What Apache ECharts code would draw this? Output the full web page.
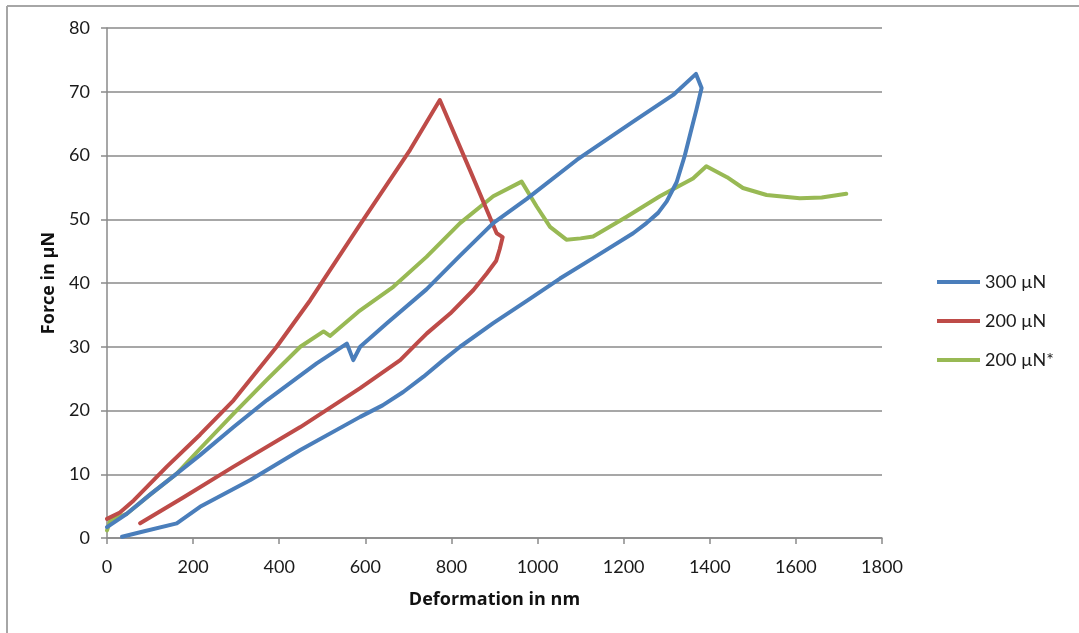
<!DOCTYPE html>
<html>
<head>
<meta charset="utf-8">
<title>Force vs Deformation</title>
<script src="https://cdn.jsdelivr.net/npm/echarts@6/dist/echarts.min.js"></script>
<style>
  html, body { margin: 0; padding: 0; background: #ffffff; }
  #chart { width: 1079px; height: 633px; }
</style>
</head>
<body>
<div id="chart"></div>
<script>
// Series names
const seriesNames = ['300 µN', '200 µN', '200 µN*'];

// 300 µN: loading then unloading (deformation nm, force µN)
const deformation300 = [0, 46, 100, 162, 216, 294, 371, 487, 557, 572, 588, 650, 742, 820, 897, 975, 1091, 1222, 1315, 1368, 1381, 1369, 1355, 1342, 1323, 1300, 1280, 1253, 1222, 1129, 1052, 975, 897, 820, 781, 735, 688, 640, 588, 449, 333, 216, 162, 77, 35];
const force300 =       [1.7, 3.8, 6.8, 10.1, 13.0, 17.4, 21.6, 27.4, 30.5, 27.9, 30.0, 33.7, 39.0, 44.3, 49.4, 53.2, 59.3, 65.3, 69.5, 72.8, 70.6, 67.2, 63.5, 60.0, 55.8, 52.8, 51.0, 49.4, 47.8, 43.9, 40.7, 37.2, 33.7, 30.0, 27.9, 25.3, 22.9, 20.8, 19.0, 13.8, 9.1, 4.9, 2.3, 0.9, 0.2];

// 200 µN: loading then unloading
const deformation200 = [0, 30, 62, 139, 216, 294, 394, 472, 588, 704, 773, 843, 905, 919, 912, 904, 882, 851, 797, 743, 719, 681, 588, 449, 294, 178, 77];
const force200 =       [3.0, 4.0, 5.9, 11.2, 16.2, 21.6, 30.0, 37.3, 49.2, 60.9, 68.7, 57.7, 47.8, 47.2, 45.3, 43.5, 41.5, 38.9, 35.2, 32.1, 30.5, 27.9, 23.5, 17.4, 11.2, 6.4, 2.3];

// 200 µN*: loading curve with two pop-in events
const deformation200s = [0, 8, 46, 100, 162, 216, 294, 371, 449, 503, 518, 584, 665, 742, 820, 897, 963, 998, 1029, 1067, 1100, 1129, 1207, 1284, 1361, 1392, 1440, 1477, 1532, 1609, 1660, 1717];
const force200s =       [1.2, 2.8, 3.8, 6.8, 10.1, 14.0, 19.5, 24.8, 30.0, 32.4, 31.7, 35.5, 39.4, 44.1, 49.4, 53.6, 55.9, 52.0, 48.8, 46.8, 47.0, 47.3, 50.4, 53.6, 56.4, 58.3, 56.6, 54.9, 53.8, 53.3, 53.4, 54.0];

// Axis ticks
const xTicks = { min: 0, max: 1800, step: 200 };
const yTicks = { min: 0, max: 80, step: 10 };

const colors = ['#4a7ebb', '#be4b48', '#98b954'];
const font = 'Lato, "Open Sans", sans-serif';
const titleFont = '"Open Sans", Lato, sans-serif';
const axisGray = '#8a8a8a';

function pairs(xs, ys) {
  return xs.map((x, i) => [x, ys[i]]);
}

const seriesData = [
  pairs(deformation300, force300),
  pairs(deformation200, force200),
  pairs(deformation200s, force200s)
];

const chart = echarts.init(document.getElementById('chart'), null, { renderer: 'canvas' });

chart.setOption({
  backgroundColor: '#ffffff',
  animation: false,
  color: colors,
  graphic: [
    { type: 'line', shape: { x1: 7, y1: 6, x2: 1079, y2: 6 }, style: { stroke: '#a6a6a6', lineWidth: 2 } },
    { type: 'line', shape: { x1: 7, y1: 6, x2: 7, y2: 633 }, style: { stroke: '#a6a6a6', lineWidth: 2 } }
  ],
  grid: { left: 107, top: 28, right: 197, bottom: 95, containLabel: false },
  legend: {
    orient: 'vertical',
    left: 937,
    top: 272,
    padding: 0,
    icon: 'rect',
    itemWidth: 43,
    itemHeight: 4,
    itemGap: 19,
    data: seriesNames,
    textStyle: { fontFamily: font, fontSize: 18, color: '#1a1a1a', lineHeight: 20 }
  },
  xAxis: {
    type: 'value',
    min: xTicks.min,
    max: xTicks.max,
    interval: xTicks.step,
    name: 'Deformation in nm',
    nameLocation: 'middle',
    nameGap: 53,
    nameTextStyle: { fontFamily: titleFont, fontSize: 18, fontWeight: 'bold', color: '#111' },
    axisLine: { show: true, onZero: false, lineStyle: { color: axisGray, width: 1.5 } },
    axisTick: { show: true, inside: false, length: 6, lineStyle: { color: axisGray, width: 1.5 } },
    axisLabel: { fontFamily: font, fontSize: 18, color: '#1a1a1a', margin: 20, formatter: (v) => String(v) },
    splitLine: { show: false }
  },
  yAxis: {
    type: 'value',
    min: yTicks.min,
    max: yTicks.max,
    interval: yTicks.step,
    name: 'Force in µN',
    nameLocation: 'middle',
    nameGap: 49,
    nameTextStyle: { fontFamily: titleFont, fontSize: 18, fontWeight: 'bold', color: '#111' },
    axisLine: { show: true, lineStyle: { color: axisGray, width: 1.5 } },
    axisTick: { show: true, inside: false, length: 6, lineStyle: { color: axisGray, width: 1.5 } },
    axisLabel: { fontFamily: font, fontSize: 18, color: '#1a1a1a', margin: 17, formatter: (v) => String(v) },
    splitLine: { show: true, lineStyle: { color: axisGray, width: 1.5 } }
  },
  series: seriesNames.map((name, i) => ({
    name: name,
    type: 'line',
    data: seriesData[i],
    showSymbol: false,
    symbol: 'none',
    smooth: false,
    lineStyle: { width: 4, color: colors[i], join: 'round', cap: 'round' },
    itemStyle: { color: colors[i] },
    z: 3 - i
  }))
});
</script>
</body>
</html>
